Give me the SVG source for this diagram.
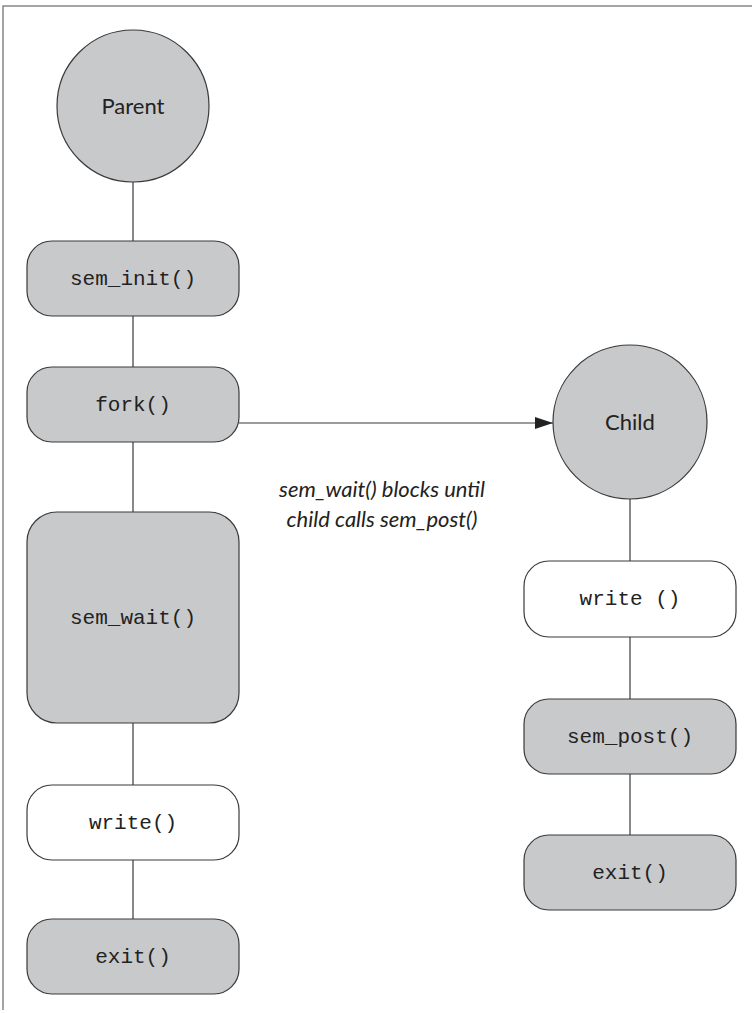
<svg xmlns="http://www.w3.org/2000/svg" width="752" height="1013" viewBox="0 0 752 1013">
<style>
.g{fill:#c8c9cb;stroke:#3a3a3a;stroke-width:1.2}
.w{fill:#fff;stroke:#3a3a3a;stroke-width:1.2}
.m{font-family:"Liberation Mono",monospace;font-size:21px;fill:#222;text-anchor:middle}
.s{font-family:Lato,"Open Sans",sans-serif;font-size:22px;fill:#222;text-anchor:middle}
.i{font-family:Lato,"Open Sans",sans-serif;font-style:italic;font-size:22px;fill:#222;text-anchor:middle}
.c{stroke:#3a3a3a;stroke-width:1.2;fill:none}
</style>
<defs>
<marker id="ah" markerWidth="18" markerHeight="12" refX="18" refY="6" orient="auto" markerUnits="userSpaceOnUse">
<path d="M0,0 L18,6 L0,12 Z" fill="#222"/>
</marker>
</defs>
<rect width="752" height="1013" fill="#fff"/>
<path d="M3,1010 V6 H752" fill="none" stroke="#888" stroke-width="1.5"/>
<g id="connectors">
<line class="c" x1="133" y1="182" x2="133" y2="241"/>
<line class="c" x1="133" y1="316" x2="133" y2="367"/>
<line class="c" x1="133" y1="442" x2="133" y2="512"/>
<line class="c" x1="133" y1="723" x2="133" y2="785"/>
<line class="c" x1="133" y1="860" x2="133" y2="919"/>
<line class="c" x1="239" y1="423" x2="553" y2="423" marker-end="url(#ah)"/>
<line class="c" x1="630" y1="497" x2="630" y2="561"/>
<line class="c" x1="630" y1="637" x2="630" y2="699"/>
<line class="c" x1="630" y1="774" x2="630" y2="835"/>
</g>
<g id="parent"><circle class="g" cx="133" cy="106" r="76"/><text class="s" x="133" y="114">Parent</text></g>
<g id="sem_init"><rect class="g" x="27" y="241" width="212" height="75" rx="25"/><text class="m" x="133" y="285">sem_init()</text></g>
<g id="fork"><rect class="g" x="27" y="367" width="212" height="75" rx="25"/><text class="m" x="133" y="411">fork()</text></g>
<g id="sem_wait"><rect class="g" x="27" y="512" width="212" height="211" rx="30"/><text class="m" x="133" y="624">sem_wait()</text></g>
<g id="write_parent"><rect class="w" x="27" y="785" width="212" height="75" rx="25"/><text class="m" x="133" y="829">write()</text></g>
<g id="exit_parent"><rect class="g" x="27" y="919" width="212" height="75" rx="25"/><text class="m" x="133" y="963">exit()</text></g>
<g id="child"><circle class="g" cx="630" cy="422" r="77"/><text class="s" x="630" y="430">Child</text></g>
<g id="write_child"><rect class="w" x="524" y="561" width="212" height="76" rx="25"/><text class="m" x="630" y="605">write ()</text></g>
<g id="sem_post"><rect class="g" x="524" y="699" width="212" height="75" rx="25"/><text class="m" x="630" y="743">sem_post()</text></g>
<g id="exit_child"><rect class="g" x="524" y="835" width="212" height="75" rx="25"/><text class="m" x="630" y="879">exit()</text></g>
<g id="label"><text class="i" x="382" y="497">sem_wait() blocks until</text><text class="i" x="382" y="527">child calls sem_post()</text></g>
</svg>
